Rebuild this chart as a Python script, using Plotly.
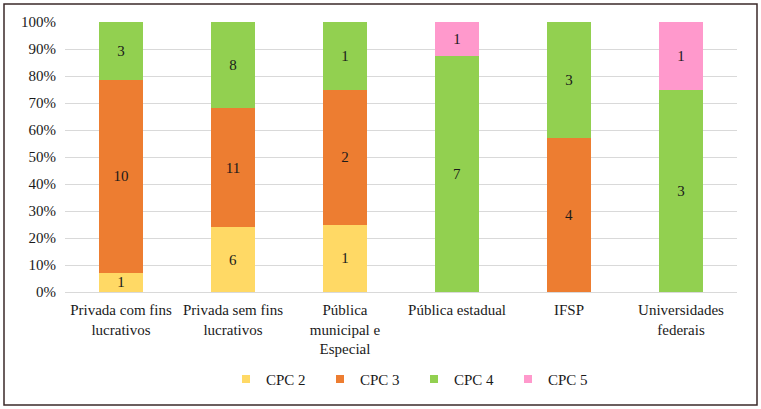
import plotly.graph_objects as go

categories = ["Privada com fins<br>lucrativos", "Privada sem fins<br>lucrativos",
              "Pública<br>municipal e<br>Especial", "Pública estadual", "IFSP",
              "Universidades<br>federais"]
series_names = ["CPC 2", "CPC 3", "CPC 4", "CPC 5"]
cpc2 = [1, 6, 1, 0, 0, 0]
cpc3 = [10, 11, 2, 0, 4, 0]
cpc4 = [3, 8, 1, 7, 3, 3]
cpc5 = [0, 0, 0, 1, 0, 1]
colors = ["#FFD965", "#ED7D31", "#92D050", "#FF99CC"]
tick_vals = [0, 10, 20, 30, 40, 50, 60, 70, 80, 90, 100]
tick_text = [f"{v}%" for v in tick_vals]

all_series = [cpc2, cpc3, cpc4, cpc5]
totals = [sum(s[i] for s in all_series) for i in range(len(categories))]

font_family = "Liberation Serif"
fs = 15
fig = go.Figure()
for name, vals, col in zip(series_names, all_series, colors):
    pct = [v / t * 100 for v, t in zip(vals, totals)]
    fig.add_trace(go.Bar(
        x=categories, y=pct, name=name, marker_color=col, marker_line_width=0,
        text=[str(v) if v > 0 else "" for v in vals],
        textposition="inside", insidetextanchor="middle", textangle=0,
        textfont=dict(family=font_family, size=fs, color="#1a1a1a"),
        constraintext="none", showlegend=False, hoverinfo="skip",
    ))
# legend-only entries with small square markers
for name, col in zip(series_names, colors):
    fig.add_trace(go.Scatter(
        x=[None], y=[None], mode="markers", name=name,
        marker=dict(symbol="square", size=8, color=col),
    ))

fig.update_layout(
    barmode="stack", bargap=0.61,
    width=761, height=409,
    margin=dict(l=65, r=24, t=22, b=117, autoexpand=False),
    paper_bgcolor="white", plot_bgcolor="white",
    font=dict(family=font_family, size=fs, color="#1a1a1a"),
    showlegend=True,
    legend=dict(orientation="h", x=(226 - 65) / 672, xanchor="left", y=-0.262, yanchor="top",
                font=dict(family=font_family, size=fs, color="#1a1a1a"),
                itemwidth=30, traceorder="normal", itemclick=False,
                entrywidth=49),
    uniformtext=dict(mode=False),
)
fig.update_yaxes(range=[0, 100], tickvals=tick_vals, ticktext=tick_text,
                 showgrid=True, gridcolor="#D9D9D9", gridwidth=1, automargin=False,
                 zeroline=False, showline=False, ticks="", ticklen=0,
                 ticklabelstandoff=8,
                 tickfont=dict(family=font_family, size=fs, color="#1a1a1a"))
fig.update_xaxes(showline=True, linecolor="#D9D9D9", linewidth=1, ticks="",
                 tickangle=0, automargin=False, ticklabelstandoff=4,
                 tickfont=dict(family=font_family, size=fs, color="#1a1a1a"))

fig.add_shape(type="rect", xref="paper", yref="paper",
              x0=(4 - 65) / 672, x1=(757 - 65) / 672,
              y0=(292 - 405) / 270, y1=(292 - 4) / 270,
              line=dict(color="#3B2A2A", width=1.5), fillcolor="rgba(0,0,0,0)",
              layer="below")

fig.write_html("out.html", config={"displayModeBar": False},
               post_script="document.body.style.margin='0';")
